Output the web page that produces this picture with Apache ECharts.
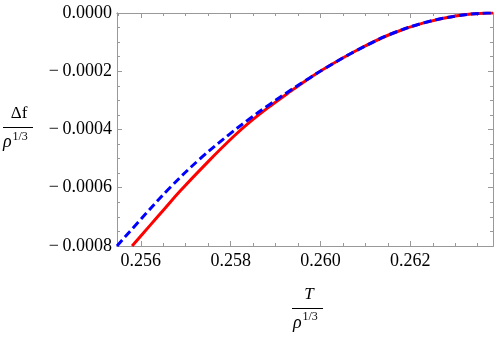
<!DOCTYPE html>
<html>
<head>
<meta charset="utf-8">
<script src="https://cdn.jsdelivr.net/npm/echarts@6/dist/echarts.min.js"></script>
<style>
  html, body { margin: 0; padding: 0; background: #fff; }
  #chart { width: 498px; height: 339px; }
</style>
</head>
<body>
<div id="chart"></div>
<script>
// ticks
const xMajor = [0.256, 0.258, 0.260, 0.262];
const xMinor = [0.2555, 0.2565, 0.257, 0.2575, 0.2585, 0.259, 0.2595, 0.2605, 0.261, 0.2615, 0.2625, 0.263, 0.2635];
const yMajor = [-0.0008, -0.0006, -0.0004, -0.0002, 0];
const yMinor = [-0.00075, -0.0007, -0.00065, -0.00055, -0.0005, -0.00045, -0.00035, -0.0003, -0.00025, -0.00015, -0.0001, -0.00005];

// red solid curve
const tRed = [0.255806, 0.256201, 0.256535, 0.25687, 0.257494, 0.258059, 0.258431, 0.258877, 0.259323, 0.259769, 0.260066, 0.260811, 0.261554, 0.262297, 0.263042, 0.263711, 0.26384];
const fRed = [-0.000800, -0.000730, -0.000671, -0.000612, -0.000511, -0.000425, -0.000374, -0.000320, -0.000270, -0.000222, -0.000193, -0.000128, -0.000073, -0.000034, -0.0000096, -0.0000003, 0];

// blue dashed curve
const tBlue = [0.25547, 0.256089, 0.256647, 0.257316, 0.257985, 0.258431, 0.258877, 0.259323, 0.259769, 0.260066, 0.260811, 0.261554, 0.262297, 0.263042, 0.263711, 0.26384];
const fBlue = [-0.000800, -0.000693, -0.000600, -0.000501, -0.000415, -0.000362, -0.000313, -0.000266, -0.000222, -0.000193, -0.000128, -0.000073, -0.000034, -0.0000096, -0.0000003, 0];

const X_MIN = 0.25547, X_MAX = 0.26384;
const FRAME = '#999';
const SERIF = '"Liberation Serif", "DejaVu Serif", serif';

const chart = echarts.init(document.getElementById('chart'));

function fmtY(v) {
  if (Math.abs(v) < 1e-12) return '0.0000';
  return (v < 0 ? '\u2212\u2009' : '') + Math.abs(v).toFixed(4);
}

function xAx(pos, ticks, len, labels) {
  return {
    type: 'value', position: pos, min: X_MIN, max: X_MAX,
    axisLine: { show: true, onZero: false, lineStyle: { color: FRAME, width: 1 } },
    axisTick: { show: true, inside: true, length: len, customValues: ticks, lineStyle: { color: FRAME } },
    axisLabel: labels ? {
      show: true, customValues: ticks, margin: 6, color: '#000',
      fontFamily: SERIF, fontSize: 18, formatter: v => v.toFixed(3)
    } : { show: false },
    splitLine: { show: false }
  };
}

function yAx(pos, ticks, len, labels) {
  return {
    type: 'value', position: pos, min: -0.0008, max: 0,
    axisLine: { show: true, onZero: false, lineStyle: { color: FRAME, width: 1 } },
    axisTick: { show: true, inside: true, length: len, customValues: ticks, lineStyle: { color: FRAME } },
    axisLabel: labels ? {
      show: true, customValues: ticks, margin: 5, color: '#000',
      fontFamily: SERIF, fontSize: 18, formatter: fmtY
    } : { show: false },
    splitLine: { show: false }
  };
}

const option = {
  animation: false,
  grid: { left: 117, right: 5, top: 13, bottom: 93, containLabel: false },
  xAxis: [
    xAx('bottom', xMajor, 5, true),
    xAx('top', xMajor, 5, false),
    xAx('bottom', xMinor, 3, false),
    xAx('top', xMinor, 3, false)
  ],
  yAxis: [
    yAx('left', yMajor, 5, true),
    yAx('right', yMajor, 5, false),
    yAx('left', yMinor, 3, false),
    yAx('right', yMinor, 3, false)
  ],
  series: [
    {
      type: 'line', xAxisIndex: 0, yAxisIndex: 0,
      data: tRed.map((t, i) => [t, fRed[i]]),
      showSymbol: false, smooth: 0.4, clip: true,
      lineStyle: { color: '#ff0000', width: 3, type: 'solid' }, z: 2
    },
    {
      type: 'line', xAxisIndex: 0, yAxisIndex: 0,
      data: tBlue.map((t, i) => [t, fBlue[i]]),
      showSymbol: false, smooth: 0.4, clip: true,
      lineStyle: { color: '#0000ff', width: 3, type: [8, 4] }, z: 3
    }
  ],
  graphic: [
    // y axis label: Δf / ρ^(1/3)
    { type: 'text', x: 19, y: 114, style: { text: 'Δf', font: '17px ' + SERIF, fill: '#000', align: 'center', verticalAlign: 'middle' } },
    { type: 'line', shape: { x1: 3, y1: 127.5, x2: 33, y2: 127.5 }, style: { stroke: '#000', lineWidth: 1 } },
    { type: 'text', x: 3, y: 142, style: { text: 'ρ', font: 'italic 18px ' + SERIF, fill: '#000', align: 'left', verticalAlign: 'middle' } },
    { type: 'text', x: 12.5, y: 137, style: { text: '1/3', font: '12px ' + SERIF, fill: '#000', align: 'left', verticalAlign: 'middle' } },
    // x axis label: T / ρ^(1/3)
    { type: 'text', x: 309, y: 294.5, style: { text: 'T', font: 'italic 17px ' + SERIF, fill: '#000', align: 'center', verticalAlign: 'middle' } },
    { type: 'line', shape: { x1: 292, y1: 308.5, x2: 323, y2: 308.5 }, style: { stroke: '#000', lineWidth: 1 } },
    { type: 'text', x: 293, y: 323, style: { text: 'ρ', font: 'italic 18px ' + SERIF, fill: '#000', align: 'left', verticalAlign: 'middle' } },
    { type: 'text', x: 302.5, y: 317, style: { text: '1/3', font: '12px ' + SERIF, fill: '#000', align: 'left', verticalAlign: 'middle' } }
  ]
};

chart.setOption(option);
</script>
</body>
</html>
